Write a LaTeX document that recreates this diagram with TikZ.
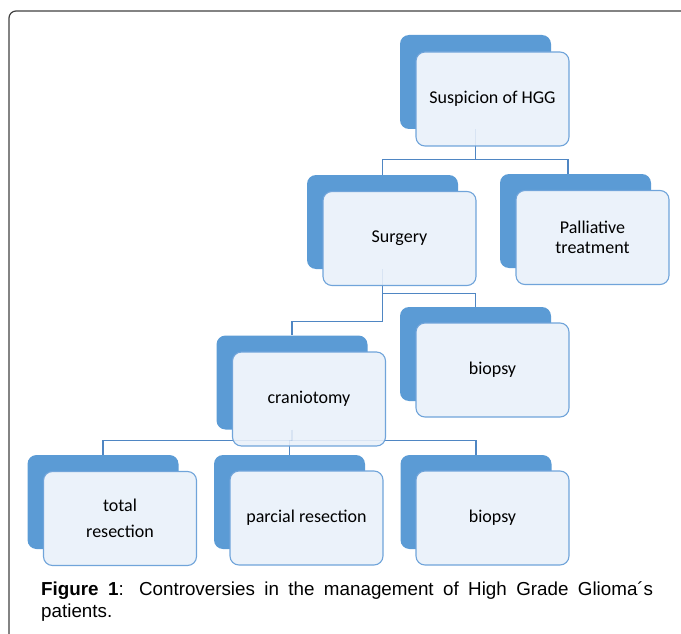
\documentclass[tikz,border=0pt]{standalone}
\usepackage{fontspec}
\setmainfont{Carlito}
\newfontfamily\capfont{Liberation Sans}
\usetikzlibrary{calc}
\definecolor{darkbox}{HTML}{5B9BD5}
\definecolor{lightfill}{HTML}{EBF2FA}
\definecolor{lightedge}{HTML}{70A4DA}
\definecolor{connc}{HTML}{4F86C3}
\definecolor{framec}{HTML}{404040}
\tikzset{
  darkstyle/.style={fill=darkbox, draw=none, rounded corners=9pt, minimum width=151pt, minimum height=94pt, inner sep=0pt},
  lightstyle/.style={fill=lightfill, draw=lightedge, line width=1.1pt, rounded corners=9pt, minimum width=153pt, minimum height=94pt, inner sep=0pt, align=center, font=\fontsize{18}{26}\selectfont, text=black},
  conn/.style={draw=connc, line width=1.1pt},
}
\newcommand\myconnectors[1]{%
  \draw[conn,#1] (d0.south) -- (j0);
  \draw[conn,#1] (j0) -| (d1.north);
  \draw[conn,#1] (j0) -| ([xshift=-7.5pt]d2.north);
  \draw[conn,#1] (d1.south) -- (j2) -| (d3.north);
  \draw[conn,#1] (j1) -| (d4.north);
  \draw[conn,#1] (d3.south) -- (j3);
  \draw[conn,#1] (j3) -| (d5.north);
  \draw[conn,#1] (j3) -| (d6.north);
  \draw[conn,#1] (j3) -| (d7.north);
}
\begin{document}
\begin{tikzpicture}[x=1pt,y=-1pt]
\useasboundingbox (0,0) rectangle (681,634);
\draw[framec, line width=1.2pt, rounded corners=7pt] (9,700) -- (9,11) -- (760,11);
% dark boxes
\node[darkstyle] (d0) at (475.5,82) {};
\node[darkstyle] (d1) at (382.5,222) {};
\node[darkstyle] (d2) at (575.5,221) {};
\node[darkstyle] (d3) at (292,382.5) {};
\node[darkstyle] (d4) at (475.5,354) {};
\node[darkstyle] (d5) at (103,502) {};
\node[darkstyle] (d6) at (289.5,502) {};
\node[darkstyle] (d7) at (476,502) {};
% connectors
\coordinate (j0) at ($(d0.south)+(0,30)$);
\coordinate (j1) at ($(d1.south)+(0,24)$);
\coordinate (j2) at ($(d1.south)+(0,52)$);
\coordinate (j3) at ($(d3.south)+(0,11)$);
\myconnectors{}
% light boxes
\node[lightstyle] (l0) at (492.5,99) {Suspicion of HGG};
\node[lightstyle] (l1) at (399.5,238.5) {Surgery};
\node[lightstyle, font=\fontsize{18}{20}\selectfont] (l2) at (592.5,237.5) {Palliative\\treatment};
\node[lightstyle] (l3) at (309,399) {craniotomy};
\node[lightstyle] (l4) at (492.5,370) {biopsy};
\node[lightstyle] (l5) at (120,518.5) {total\\resection};
\node[lightstyle] (l6) at (306.5,518) {parcial resection};
\node[lightstyle] (l7) at (492.5,518) {biopsy};
% faint connectors seen through the light boxes
\myconnectors{draw opacity=0.12}
% caption
\node[anchor=north west, inner sep=0pt, text width=612pt, align=justify, font=\capfont\fontsize{18.8}{22}\selectfont] (cap) at (41,581)
  {\textbf{Figure 1}: Controversies in the management of High Grade Glioma´s\linebreak patients.};
\end{tikzpicture}
\end{document}
